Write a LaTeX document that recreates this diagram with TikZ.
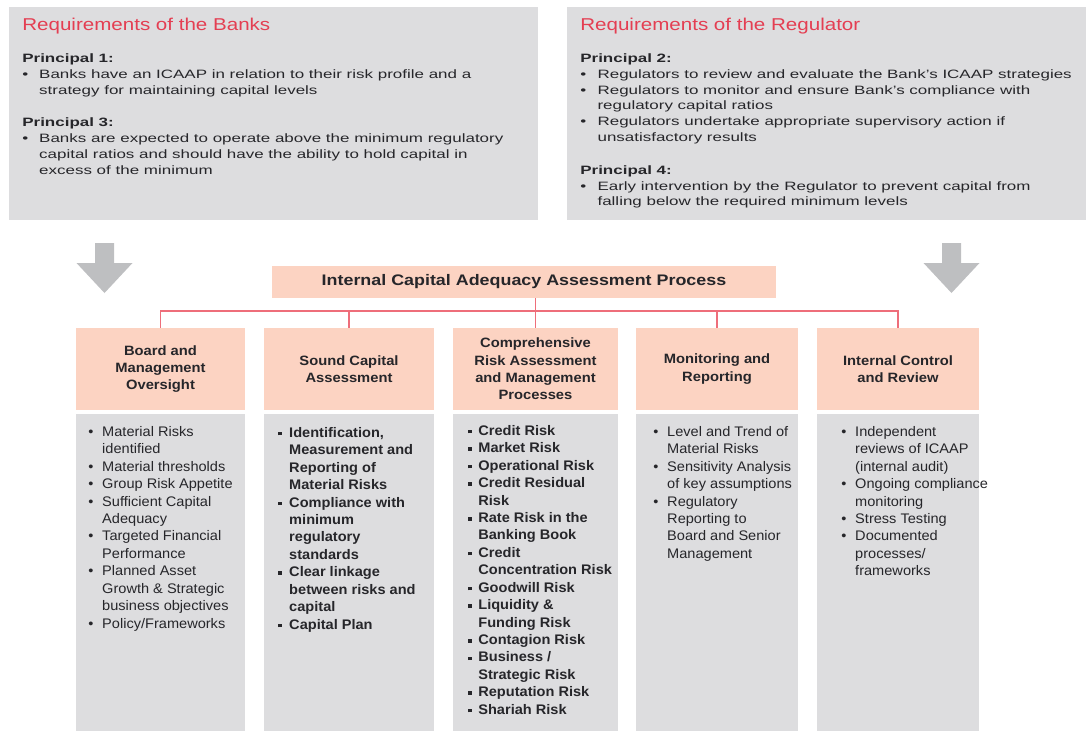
\documentclass[tikz,border=0pt]{standalone}
\usepackage{fontspec}
\setmainfont{Liberation Sans}
\newfontfamily\topfont[FakeStretch=1.4]{Liberation Sans}
\newfontfamily\titlefont[FakeStretch=1.2]{Liberation Sans}
\newfontfamily\procfont[FakeStretch=1.17]{Liberation Sans}
\newfontfamily\hdrfont[FakeStretch=1.09]{Liberation Sans}
\newfontfamily\colfont[FakeStretch=1.05]{Liberation Sans}

\definecolor{panel}{RGB}{221, 221, 223}
\definecolor{peach}{RGB}{252, 211, 194}
\definecolor{redtitle}{RGB}{228, 62, 82}
\definecolor{redline}{RGB}{238, 110, 122}
\definecolor{arrowgrey}{RGB}{190, 191, 193}
\definecolor{ink}{RGB}{38, 38, 42}

\newcommand{\bl}[1][7.9pt]{\makebox[#1][l]{\textbullet}}
\newcommand{\sq}[1][6pt]{\makebox[#1][l]{\raisebox{1.1pt}{\rule{2pt}{2pt}}}}
\newcommand{\nx}[1][7.9pt]{\hspace*{#1}}

\begin{document}
\begin{tikzpicture}[x=0.02cm, y=-0.02cm, text=ink,
  branch/.style={draw=redline, line width=0.8pt},
  hdr/.style={fill=peach, align=center, inner sep=0, minimum height=1.64cm,
    font=\hdrfont\bfseries\fontsize{7.7}{9.9}\selectfont},
  items/.style={anchor=north west, inner sep=0, align=left,
    font=\colfont\fontsize{7.9}{9.92}\selectfont},
  reqtext/.style={anchor=north west, inner sep=0, align=left,
    font=\topfont\fontsize{6.9}{9.07}\selectfont},
  reqtitle/.style={anchor=north west, inner sep=0, text=redtitle,
    font=\titlefont\fontsize{9.75}{11}\selectfont}]
  \useasboundingbox (0, 0) rectangle (1086, 731);
  \fill[panel] (9, 7) rectangle (538, 220);
  \fill[panel] (567, 7) rectangle (1086, 220);
  \node[reqtitle] (banks) at (22, 18) {Requirements of the Banks};
  \node[reqtitle] (regulator) at (580, 18) {Requirements of the Regulator};
  \node[reqtext] (reqb) at (22, 53) {\textbf{Principal 1:}\\
    \bl[9.6pt]Banks have an ICAAP in relation to their risk profile and a\\
    \nx[9.6pt]strategy for maintaining capital levels\\[9.3pt]
    \textbf{Principal 3:}\\
    \bl[9.6pt]Banks are expected to operate above the minimum regulatory\\
    \nx[9.6pt]capital ratios and should have the ability to hold capital in\\
    \nx[9.6pt]excess of the minimum};
  \node[reqtext] (reqr) at (580, 53) {\textbf{Principal 2:}\\
    \bl[9.8pt]Regulators to review and evaluate the Bank’s ICAAP strategies\\
    \bl[9.8pt]Regulators to monitor and ensure Bank’s compliance with\\
    \nx[9.8pt]regulatory capital ratios\\
    \bl[9.8pt]Regulators undertake appropriate supervisory action if\\
    \nx[9.8pt]unsatisfactory results\\[9.3pt]
    \textbf{Principal 4:}\\
    \bl[9.8pt]Early intervention by the Regulator to prevent capital from\\
    \nx[9.8pt]falling below the required minimum levels};
  \foreach \c in {104.5, 951.5}
    \fill[arrowgrey] (\c-9.5, 243) -- (\c+9.5, 243) -- (\c+9.5, 263) -- (\c+28, 263)
      -- (\c, 293) -- (\c-28, 263) -- (\c-9.5, 263) -- cycle;
  \node[fill=peach, inner sep=0, minimum width=10.08cm, minimum height=0.64cm,
    font=\procfont\bfseries\fontsize{8.7}{10}\selectfont] (icaap) at (524, 282)
    {Internal Capital Adequacy Assessment Process};
  \foreach \l/\r/\txt [count=\i] in {76/245/{Board and\\Management\\Oversight},
      264/434/{Sound Capital\\Assessment},
      453/618/{Comprehensive\\Risk Assessment\\and Management\\Processes},
      636/798/{Monitoring and\\Reporting},
      817/979/{Internal Control\\and Review}} {
    \fill[panel] (\l, 414) rectangle (\r, 731);
    \node[hdr, minimum width={(\r-\l)*0.02cm}] (h\i) at ({(\l+\r)/2}, 369) {\txt};
  }
  \coordinate (bar) at (0, 311);
  \draw[branch] (h1.north) -- (h1.north |- bar) -- (h5.north |- bar) -- (h5.north);
  \foreach \i in {2, 3, 4}
    \draw[branch] (h\i.north) -- (h\i.north |- bar);
  \draw[branch] (h3.north |- icaap.south) -- (h3.north |- bar);
  \node[items] (b1) at (88, 426) {\bl Material Risks\\ \nx identified\\
    \bl Material thresholds\\ \bl Group Risk Appetite\\
    \bl Sufficient Capital\\ \nx Adequacy\\
    \bl Targeted Financial\\ \nx Performance\\
    \bl Planned Asset\\ \nx Growth \& Strategic\\ \nx business objectives\\
    \bl Policy/Frameworks};
  \node[items, font=\colfont\bfseries\fontsize{7.9}{9.92}\selectfont] (b2) at (278, 427)
    {\sq[6.2pt]Identification,\\ \nx[6.2pt]Measurement and\\
    \nx[6.2pt]Reporting of\\ \nx[6.2pt]Material Risks\\
    \sq[6.2pt]Compliance with\\ \nx[6.2pt]minimum\\ \nx[6.2pt]regulatory\\
    \nx[6.2pt]standards\\
    \sq[6.2pt]Clear linkage\\ \nx[6.2pt]between risks and\\ \nx[6.2pt]capital\\
    \sq[6.2pt]Capital Plan};
  \node[items, font=\colfont\bfseries\fontsize{7.9}{9.92}\selectfont] (b3) at (468, 425)
    {\sq[5.7pt]Credit Risk\\ \sq[5.7pt]Market Risk\\ \sq[5.7pt]Operational Risk\\
    \sq[5.7pt]Credit Residual\\ \nx[5.7pt]Risk\\
    \sq[5.7pt]Rate Risk in the\\ \nx[5.7pt]Banking Book\\
    \sq[5.7pt]Credit\\ \nx[5.7pt]Concentration Risk\\
    \sq[5.7pt]Goodwill Risk\\
    \sq[5.7pt]Liquidity \&\\ \nx[5.7pt]Funding Risk\\
    \sq[5.7pt]Contagion Risk\\
    \sq[5.7pt]Business /\\ \nx[5.7pt]Strategic Risk\\
    \sq[5.7pt]Reputation Risk\\ \sq[5.7pt]Shariah Risk};
  \node[items] (b4) at (653, 426) {\bl Level and Trend of\\ \nx Material Risks\\
    \bl Sensitivity Analysis\\ \nx of key assumptions\\
    \bl Regulatory\\ \nx Reporting to\\ \nx Board and Senior\\ \nx Management};
  \node[items] (b5) at (841, 426) {\bl Independent\\ \nx reviews of ICAAP\\
    \nx (internal audit)\\
    \bl Ongoing compliance\\ \nx monitoring\\ \bl Stress Testing\\
    \bl Documented\\ \nx processes/\\ \nx frameworks};
\end{tikzpicture}
\end{document}
